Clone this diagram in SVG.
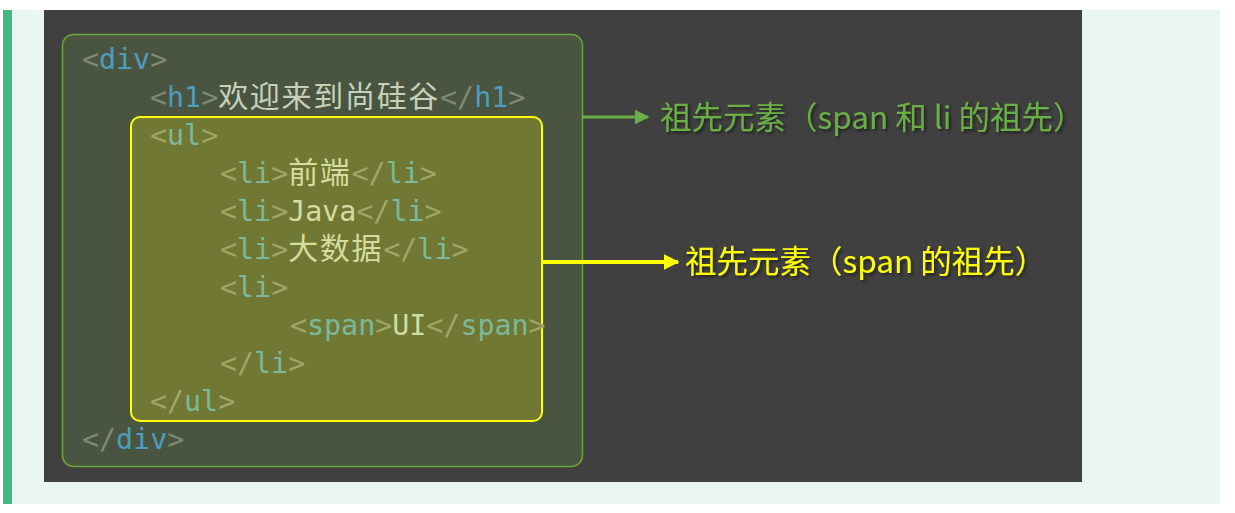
<svg xmlns="http://www.w3.org/2000/svg" width="1235" height="513" viewBox="0 0 1235 513">
<style>
.code{font-family:"DejaVu Sans Mono","Liberation Mono","Noto Sans CJK SC",monospace;font-size:28.3px}
.cjk{font-family:"Noto Sans CJK SC",sans-serif;font-size:30px;letter-spacing:1.7px}
.pg{fill:#7E8A71}
.py{fill:#A0A766}
.kb{fill:#4E9CBF}
.kt{fill:#7DB89A}
.tg{fill:#C7D0B9}
.ty{fill:#D5DC9E}
.lbl{font-family:"Noto Sans CJK SC","Noto Sans",sans-serif;font-size:31.5px}
</style>
<defs>
<filter id="sh" x="-5%" y="-20%" width="110%" height="150%">
<feDropShadow dx="2" dy="2" stdDeviation="1.5" flood-color="#000" flood-opacity="0.5"/>
</filter>
<marker id="ahg" viewBox="0 0 10 10" refX="9" refY="5" markerWidth="5" markerHeight="5" orient="auto" markerUnits="strokeWidth">
<path d="M0,0 L10,5 L0,10 Z" fill="#6AAE45"/>
</marker>
<marker id="ahy" viewBox="0 0 10 10" refX="9" refY="5" markerWidth="4" markerHeight="4" orient="auto" markerUnits="strokeWidth">
<path d="M0,0 L10,5 L0,10 Z" fill="#FFFF00"/>
</marker>
</defs>
<rect x="0" y="0" width="1235" height="513" fill="#FFFFFF"/>
<rect x="3" y="10" width="1217" height="494" fill="#EAF6F1"/>
<rect x="3" y="10" width="9" height="494" fill="#42B883"/>
<rect x="44" y="10" width="1038" height="472" fill="#404040"/>

<g id="outer-ancestor">
<rect x="62.5" y="34.5" width="520" height="432" rx="11" fill="#4A5541" stroke="#6AA63A" stroke-width="1.5"/>
</g>
<g id="inner-ancestor">
<rect x="131" y="117" width="411" height="304" rx="9" fill="#717834" stroke="#FFFF00" stroke-width="2"/>
</g>

<g id="code" class="code">
<text x="82" y="69"><tspan class="pg">&lt;</tspan><tspan class="kb">div</tspan><tspan class="pg">&gt;</tspan></text>
<text x="150" y="107"><tspan class="pg">&lt;</tspan><tspan class="kb">h1</tspan><tspan class="pg">&gt;</tspan><tspan class="tg cjk">欢迎来到尚硅谷</tspan><tspan class="pg">&lt;/</tspan><tspan class="kb">h1</tspan><tspan class="pg">&gt;</tspan></text>
<text x="150" y="145"><tspan class="py">&lt;</tspan><tspan class="kt">ul</tspan><tspan class="py">&gt;</tspan></text>
<text x="220" y="183"><tspan class="py">&lt;</tspan><tspan class="kt">li</tspan><tspan class="py">&gt;</tspan><tspan class="ty cjk">前端</tspan><tspan class="py">&lt;/</tspan><tspan class="kt">li</tspan><tspan class="py">&gt;</tspan></text>
<text x="220" y="221"><tspan class="py">&lt;</tspan><tspan class="kt">li</tspan><tspan class="py">&gt;</tspan><tspan class="ty">Java</tspan><tspan class="py">&lt;/</tspan><tspan class="kt">li</tspan><tspan class="py">&gt;</tspan></text>
<text x="220" y="259"><tspan class="py">&lt;</tspan><tspan class="kt">li</tspan><tspan class="py">&gt;</tspan><tspan class="ty cjk">大数据</tspan><tspan class="py">&lt;/</tspan><tspan class="kt">li</tspan><tspan class="py">&gt;</tspan></text>
<text x="220" y="297"><tspan class="py">&lt;</tspan><tspan class="kt">li</tspan><tspan class="py">&gt;</tspan></text>
<text x="290" y="335"><tspan class="py">&lt;</tspan><tspan class="kt">span</tspan><tspan class="py">&gt;</tspan><tspan class="ty">UI</tspan><tspan class="py">&lt;/</tspan><tspan class="kt">span</tspan><tspan class="py">&gt;</tspan></text>
<text x="220" y="373"><tspan class="py">&lt;/</tspan><tspan class="kt">li</tspan><tspan class="py">&gt;</tspan></text>
<text x="150" y="411"><tspan class="py">&lt;/</tspan><tspan class="kt">ul</tspan><tspan class="py">&gt;</tspan></text>
<text x="82" y="449"><tspan class="pg">&lt;/</tspan><tspan class="kb">div</tspan><tspan class="pg">&gt;</tspan></text>
</g>

<g id="connectors">
<line x1="583" y1="117" x2="648" y2="117" stroke="#6AAE45" stroke-width="3" marker-end="url(#ahg)"/>
<line x1="542" y1="262" x2="678" y2="262" stroke="#FFFF00" stroke-width="4" marker-end="url(#ahy)"/>
</g>

<g id="label-outer">
<text class="lbl" x="660" y="129" fill="#6AAE45" filter="url(#sh)">祖先元素（span 和 li 的祖先）</text>
</g>
<g id="label-inner">
<text class="lbl" x="685" y="273" fill="#FFFF00" filter="url(#sh)">祖先元素（span 的祖先）</text>
</g>
</svg>
